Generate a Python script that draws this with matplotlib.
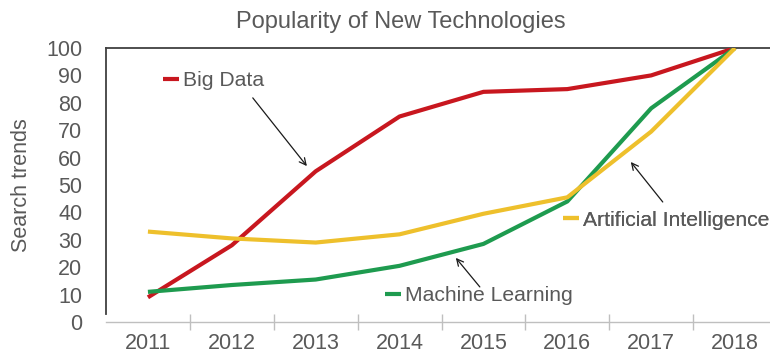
import matplotlib
matplotlib.use("Agg")
import matplotlib.pyplot as plt
from matplotlib.ticker import FixedLocator

plt.rcParams['font.family'] = ['Liberation Sans', 'DejaVu Sans']

years = ['2011', '2012', '2013', '2014', '2015', '2016', '2017', '2018']
big_data = [9, 28, 55, 75, 84, 85, 90, 100]
machine_learning = [11, 13.5, 15.5, 20.5, 28.5, 44, 78, 100]
artificial_intelligence = [33, 30.5, 29, 32, 39.5, 45.5, 69.5, 100]

series_names = ['Big Data', 'Machine Learning', 'Artificial Intelligence']
series_colors = ['#C8171F', '#1E9B4F', '#EEC02C']

text_gray = '#595959'

fig = plt.figure(figsize=(7.7, 3.58), dpi=100)
ax = fig.add_axes([106 / 770, 1 - 322 / 358, 671 / 770, 274 / 358])

x = list(range(len(years)))
lines = []
for vals, name, col in zip([big_data, machine_learning, artificial_intelligence],
                           series_names, series_colors):
    ln, = ax.plot(x, vals, color=col, lw=3, solid_capstyle='butt',
                  solid_joinstyle='round', label=name, zorder=3)
    lines.append(ln)

ax.set_xlim(-0.5, len(years) - 0.5)
ax.set_ylim(0, 100)
ax.set_yticks(range(0, 101, 10))
ax.set_xticks(x)
ax.set_xticklabels(years)
ax.xaxis.set_minor_locator(FixedLocator([i + 0.5 for i in x]))

ax.tick_params(axis='y', length=0, pad=17, labelsize=15.5, labelcolor=text_gray)
ax.tick_params(axis='x', which='major', length=0, pad=8, labelsize=15.5,
               labelcolor=text_gray)
ax.tick_params(axis='x', which='minor', length=12, direction='inout',
               color='#BFBFBF', width=1)

for side in ['top', 'left']:
    ax.spines[side].set_color('#404040')
    ax.spines[side].set_linewidth(1.3)
ax.spines['left'].set_bounds(3, 100)
ax.spines['bottom'].set_color('#BFBFBF')
ax.spines['bottom'].set_linewidth(1)
ax.spines['right'].set_visible(False)

# Series labels placed next to their lines, legend style
label_pos = {
    'Big Data': (0.179, 88),
    'Machine Learning': (2.825, 9.5),
    'Artificial Intelligence': (4.946, 37.2),
}
for ln in lines:
    name = ln.get_label()
    leg = ax.legend([ln], [name], loc='center left',
                    bbox_to_anchor=label_pos[name],
                    bbox_transform=ax.transData, frameon=False,
                    borderpad=0, borderaxespad=0, handlelength=0.75,
                    handletextpad=0.2, fontsize=15.2, labelcolor=text_gray)
    ax.add_artist(leg)

# Pointer arrows from the labels to their lines
arrows = [
    ((1.25, 81.8), (1.895, 56.9)),
    ((3.957, 12.8), (3.671, 23.4)),
    ((6.138, 43.8), (5.757, 58.4)),
]
for start, end in arrows:
    ax.annotate('', xy=end, xytext=start,
                arrowprops=dict(arrowstyle='->', color='#1a1a1a', lw=0.9,
                                shrinkA=0, shrinkB=0, mutation_scale=12),
                zorder=4)

fig.text(401 / 770, 1 - 22 / 358, 'Popularity of New Technologies',
         ha='center', va='center', fontsize=17, color=text_gray)
fig.text(22 / 770, 1 - 185 / 358, 'Search trends', rotation=90,
         ha='center', va='center', fontsize=15.5, color=text_gray)

fig.savefig('out.png', dpi=100, facecolor='white')
